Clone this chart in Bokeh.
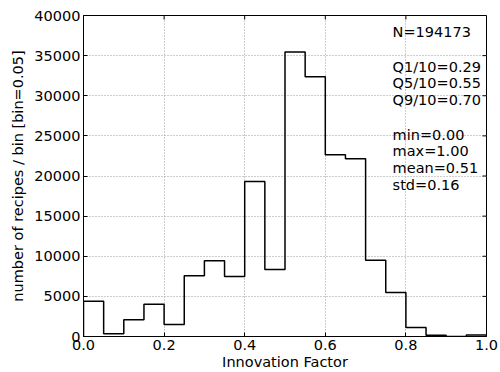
import numpy as np
from bokeh.plotting import figure
from bokeh.models import Range1d, FixedTicker, PrintfTickFormatter, Label
from bokeh.embed import file_html
from bokeh.resources import INLINE

# ---- data ----
bin_width = 0.05
bin_edges = [round(i * bin_width, 2) for i in range(21)]
counts = [4400, 350, 2080, 4030, 1500, 7570, 9430, 7480, 19320, 8350,
          35440, 32370, 22650, 22150, 9510, 5490, 1120, 150, 10, 180]
x_ticks = [0.0, 0.2, 0.4, 0.6, 0.8, 1.0]
y_ticks = [0, 5000, 10000, 15000, 20000, 25000, 30000, 35000, 40000]
stats_lines = ["N=194173", "Q1/10=0.29", "Q5/10=0.55", "Q9/10=0.70",
               "min=0.00", "max=1.00", "mean=0.51", "std=0.16"]
stats_y = [38000, 33560, 31615, 29530, 25047, 23090, 20935, 18940]
stats_x = 0.767
x_min, x_max = 0.0, 1.0
y_min, y_max = 0, 40000

FONT = "DejaVu Sans"
FS = "14.5px"

p = figure(width=500, height=372, output_backend="svg", toolbar_location=None,
           x_range=Range1d(x_min, x_max), y_range=Range1d(y_min, y_max),
           min_border_left=83, min_border_right=14, min_border_top=15, min_border_bottom=36)
p.background_fill_color = "white"
p.border_fill_color = "white"
p.outline_line_color = "black"
p.outline_line_width = 1

# grid
for g, t in ((p.xgrid[0], x_ticks), (p.ygrid[0], y_ticks)):
    g.ticker = FixedTicker(ticks=t)
    g.grid_line_color = "#9a9a9a"
    g.grid_line_dash = "1 2"
    g.grid_line_width = 1

# step outline of histogram
xs = [bin_edges[0]]
ys = [0]
for i, c in enumerate(counts):
    xs += [bin_edges[i], bin_edges[i + 1]]
    ys += [c, c]
xs.append(bin_edges[-1])
ys.append(0)
p.line(xs, ys, line_color="black", line_width=1.5)

# axes styling
for ax in (p.xaxis[0], p.yaxis[0]):
    ax.major_tick_in = 4
    ax.major_tick_out = 0
    ax.minor_tick_in = 0
    ax.minor_tick_out = 0
    ax.axis_line_color = "black"
    ax.major_tick_line_color = "black"
    ax.major_label_text_font = FONT
    ax.major_label_text_font_size = FS
    ax.major_label_text_color = "black"
    ax.axis_label_text_font = FONT
    ax.axis_label_text_font_size = FS
    ax.axis_label_text_font_style = "normal"
    ax.axis_label_text_color = "black"

p.xaxis[0].ticker = FixedTicker(ticks=x_ticks)
p.xaxis[0].formatter = PrintfTickFormatter(format="%.1f")
p.xaxis[0].axis_label = "Innovation Factor"
p.xaxis[0].major_label_standoff = 3
p.xaxis[0].axis_label_standoff = 1

p.yaxis[0].ticker = FixedTicker(ticks=y_ticks)
p.yaxis[0].formatter = PrintfTickFormatter(format="%d")
p.yaxis[0].axis_label = "number of recipes / bin [bin=0.05]"
p.yaxis[0].major_label_standoff = 3
p.yaxis[0].axis_label_standoff = 5

# mirrored inward ticks on right and top edges (4 px long, screen units)
p.ray(x=[x_max] * len(y_ticks), y=y_ticks, length=4, length_units="screen",
      angle=np.pi, line_color="black", line_width=1)
p.ray(x=x_ticks, y=[y_max] * len(x_ticks), length=4, length_units="screen",
      angle=-np.pi / 2, line_color="black", line_width=1)

for txt, yv in zip(stats_lines, stats_y):
    p.add_layout(Label(x=stats_x, y=yv, text=txt, text_font=FONT, text_font_size=FS,
                       text_color="black", text_baseline="middle", text_align="left"))

open("out.html", "w").write(file_html(p, INLINE))
